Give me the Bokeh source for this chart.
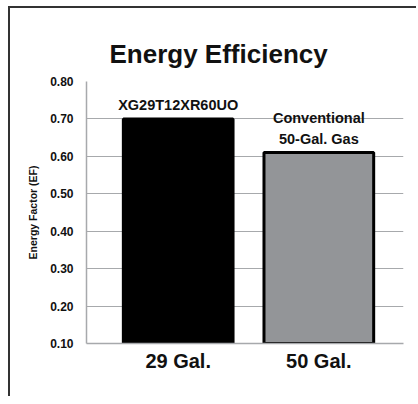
from bokeh.plotting import figure
from bokeh.models import ColumnDataSource, Range1d, FixedTicker, NumeralTickFormatter
from bokeh.core.properties import value
from bokeh.embed import file_html
from bokeh.resources import INLINE

categories = ["29 Gal.", "50 Gal."]
energy_factor = [0.70, 0.61]
bar_labels = ["XG29T12XR60UO", "Conventional\n50-Gal. Gas"]
bar_colors = ["#000000", "#939598"]
y_ticks = [0.10, 0.20, 0.30, 0.40, 0.50, 0.60, 0.70, 0.80]

idx = list(range(len(categories)))
src = ColumnDataSource(dict(x=idx, top=energy_factor, label=bar_labels, color=bar_colors))

p = figure(width=408, height=390, output_backend="svg", toolbar_location=None,
           x_range=Range1d(-0.652, 1.602), y_range=Range1d(y_ticks[0], y_ticks[-1]),
           min_border_left=76, min_border_right=15, min_border_top=73, min_border_bottom=55)
p.styles = {"border-left": "2px solid #333333", "border-top": "2px solid #333333",
            "margin-left": "8px", "margin-top": "6px"}
p.outline_line_color = None
p.background_fill_color = "white"

p.title.text = "Energy Efficiency"
p.title.text_font = "Liberation Sans"
p.title.text_font_style = "bold"
p.title.text_font_size = "26px"
p.title.align = "left"
p.title.offset = 23
p.title.standoff = 25
p.title.text_color = "#111111"

p.vbar(x="x", top="top", bottom=y_ticks[0], width=0.78, source=src,
       fill_color="color", line_color="#000000", line_width=3)

p.text(x="x", y="top", text="label", source=src, text_align="center", text_baseline="bottom",
       y_offset=-6, text_font=value("Liberation Sans"), text_font_style="bold",
       text_font_size="14.5px", text_color="#111111", text_line_height=1.3)

# y axis
p.yaxis.ticker = FixedTicker(ticks=y_ticks)
p.yaxis.formatter = NumeralTickFormatter(format="0.00")
p.yaxis.axis_label = "Energy Factor (EF)"
p.yaxis.axis_label_text_font = "Liberation Sans"
p.yaxis.axis_label_text_font_style = "bold"
p.yaxis.axis_label_text_font_size = "10.5px"
p.yaxis.axis_label_text_color = "#111111"
p.yaxis.axis_label_standoff = 8
p.yaxis.major_label_text_font = "Liberation Sans"
p.yaxis.major_label_text_font_style = "bold"
p.yaxis.major_label_text_font_size = "12px"
p.yaxis.major_label_text_color = "#111111"
p.yaxis.major_label_standoff = 7
p.yaxis.major_tick_line_color = None
p.yaxis.minor_tick_line_color = None
p.yaxis.axis_line_color = "#a7a9ac"
p.yaxis.axis_line_width = 1.5

# x axis
p.xaxis.ticker = FixedTicker(ticks=idx)
p.xaxis.major_label_overrides = {i: c for i, c in zip(idx, categories)}
p.xaxis.major_label_text_font = "Liberation Sans"
p.xaxis.major_label_text_font_style = "bold"
p.xaxis.major_label_text_font_size = "20px"
p.xaxis.major_label_text_color = "#111111"
p.xaxis.major_label_standoff = 0
p.xaxis.major_tick_line_color = None
p.xaxis.minor_tick_line_color = None
p.xaxis.axis_line_color = "#a7a9ac"
p.xaxis.axis_line_width = 1.5

p.xgrid.grid_line_color = None
p.ygrid.grid_line_color = "#a7a9ac"
p.ygrid.grid_line_width = 1.2

open("out.html", "w").write(file_html(p, INLINE))
